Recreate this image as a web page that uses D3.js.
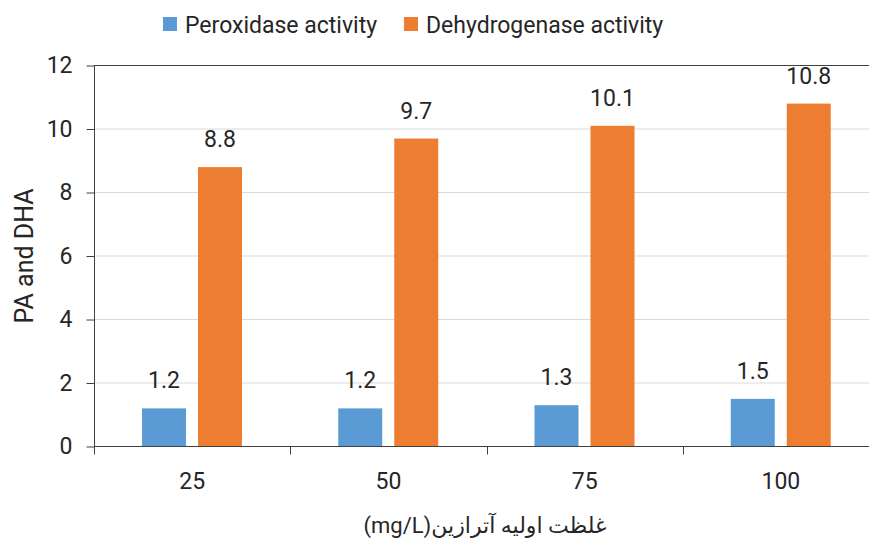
<!DOCTYPE html>
<html>
<head>
<meta charset="utf-8">
<script src="https://cdn.jsdelivr.net/npm/d3@7"></script>
<style>
  html, body { margin: 0; padding: 0; background: #fff; }
  svg { display: block; font-family: Roboto, "DejaVu Sans", sans-serif; }
</style>
</head>
<body>
<div id="chart"></div>
<script>
// data
const categories = ["25", "50", "75", "100"];
const seriesNames = ["Peroxidase activity", "Dehydrogenase activity"];
const peroxidase = [1.2, 1.2, 1.3, 1.5];
const dehydrogenase = [8.8, 9.7, 10.1, 10.8];
const yTicks = [0, 2, 4, 6, 8, 10, 12];
const yTitle = "PA and DHA";
const xTitle = "غلظت اولیه آترازین(mg/L)";

const colors = ["#5B9BD5", "#ED7D31"];
const width = 869, height = 544;

const svg = d3.select("#chart").append("svg")
  .attr("width", width)
  .attr("height", height);

const x0 = d3.scaleBand().domain(categories).range([94, 879]);
const x1 = d3.scaleBand().domain(seriesNames).range([48, 148]).paddingInner(12 / 56);
const y = d3.scaleLinear().domain([0, 12]).range([446.5, 65.5]);

// gridlines
svg.append("g")
  .selectAll("line")
  .data(yTicks.filter(t => t > 0 && t < 12))
  .join("line")
  .attr("x1", 94).attr("x2", 879)
  .attr("y1", d => y(d)).attr("y2", d => y(d))
  .attr("stroke", "#d9d9d9")
  .attr("stroke-width", 1);

// top border line at 12
svg.append("line")
  .attr("x1", 94).attr("x2", 879)
  .attr("y1", y(12)).attr("y2", y(12))
  .attr("stroke", "#404040");

// bars
const rows = categories.map((c, i) => ({ cat: c, vals: [peroxidase[i], dehydrogenase[i]] }));

const groups = svg.append("g")
  .selectAll("g")
  .data(rows)
  .join("g")
  .attr("transform", d => `translate(${x0(d.cat)},0)`);

groups.selectAll("rect")
  .data(d => d.vals.map((v, k) => ({ name: seriesNames[k], v, k })))
  .join("rect")
  .attr("x", d => x1(d.name))
  .attr("width", x1.bandwidth())
  .attr("y", d => y(d.v))
  .attr("height", d => y(0) - y(d.v))
  .attr("fill", d => colors[d.k]);

groups.selectAll("text")
  .data(d => d.vals.map((v, k) => ({ name: seriesNames[k], v, k })))
  .join("text")
  .attr("x", d => x1(d.name) + x1.bandwidth() / 2)
  .attr("y", d => y(d.v) - 20)
  .attr("text-anchor", "middle")
  .attr("font-size", 23)
  .attr("fill", "#262626")
  .text(d => d3.format(".1f")(d.v));

// y axis
const yAxis = svg.append("g")
  .attr("transform", "translate(94.5,0)")
  .call(d3.axisLeft(y).tickValues(yTicks).tickSize(8).tickPadding(14).tickFormat(d3.format("d")));
yAxis.select(".domain").attr("stroke", "#404040").attr("d", `M0,${y(12)}V454`);
yAxis.selectAll(".tick line").attr("stroke", "#404040");
yAxis.selectAll(".tick text")
  .attr("font-size", 23)
  .attr("font-family", "Roboto, sans-serif")
  .attr("fill", "#262626");

// x axis
const xAxis = svg.append("g")
  .attr("transform", `translate(0,${y(0)})`)
  .call(d3.axisBottom(x0).tickSize(0).tickPadding(26));
xAxis.select(".domain").attr("stroke", "#404040").attr("d", "M94,0H879");
xAxis.selectAll(".tick text")
  .attr("font-size", 23)
  .attr("font-family", "Roboto, sans-serif")
  .attr("fill", "#262626");

// category boundary ticks
svg.append("g")
  .selectAll("line")
  .data(categories.concat(["end"]))
  .join("line")
  .attr("x1", (d, i) => Math.round(94 + i * x0.step()) + 0.5)
  .attr("x2", (d, i) => Math.round(94 + i * x0.step()) + 0.5)
  .attr("y1", y(0)).attr("y2", y(0) + 8)
  .attr("stroke", "#404040");

// axis titles
svg.append("text")
  .attr("transform", `translate(33,256) rotate(-90)`)
  .attr("text-anchor", "middle")
  .attr("font-size", 25)
  .attr("fill", "#262626")
  .text(yTitle);

svg.append("text")
  .attr("x", 485)
  .attr("y", 533)
  .attr("text-anchor", "middle")
  .style("direction", "rtl")
  .style("unicode-bidi", "embed")
  .attr("font-size", 22)
  .attr("fill", "#262626")
  .text(xTitle);

// legend
const legend = svg.append("g");
const legendX = [163, 404];
seriesNames.forEach((name, i) => {
  legend.append("rect")
    .attr("x", legendX[i]).attr("y", 17)
    .attr("width", 14).attr("height", 14)
    .attr("fill", colors[i]);
  legend.append("text")
    .attr("x", legendX[i] + 22).attr("y", 33)
    .attr("font-size", 23)
    .attr("fill", "#262626")
    .text(name);
});
</script>
</body>
</html>
